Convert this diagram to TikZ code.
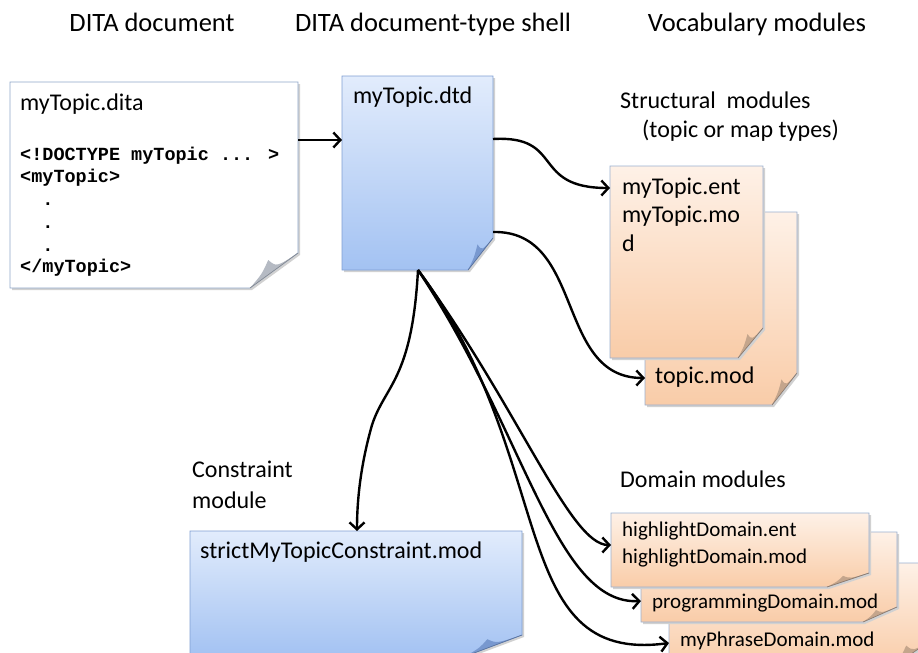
\documentclass[tikz,border=0pt]{standalone}
\usepackage{fontspec}
\setmainfont{Carlito}
\newfontfamily\monob{Liberation Mono}
\usetikzlibrary{arrows.meta}
\definecolor{bluetop}{HTML}{E2ECFC}
\definecolor{bluebot}{HTML}{A3C2F2}
\definecolor{blueedge}{HTML}{7F9FD3}
\definecolor{bluefold}{HTML}{7898CF}
\definecolor{orgtop}{HTML}{FEF1E7}
\definecolor{orgbot}{HTML}{F9CCA8}
\definecolor{orgedge}{HTML}{9AAFD0}
\definecolor{orgfold}{HTML}{C4A58C}
\definecolor{whiteedge}{HTML}{8FA6C9}
\definecolor{whitefold}{HTML}{B5BAC3}
\tikzset{
  frame/.style={inner sep=0pt, outer sep=0pt, anchor=north west},
  lbl/.style={anchor=base west, inner sep=0pt, font=\fontsize{24}{29}\selectfont},
  hdr/.style={anchor=base, inner sep=0pt, font=\fontsize{26.5}{31}\selectfont},
  sml/.style={anchor=base west, inner sep=0pt, font=\fontsize{21}{25}\selectfont},
  code/.style={anchor=base west, inner sep=0pt, font=\monob\bfseries\fontsize{18.5}{22}\selectfont},
  conn/.style={line width=2.4pt, -{Straight Barb[length=7pt,width=15pt,line width=2.4pt]}},
  bluedoc/.style={top color=bluetop, bottom color=bluebot, draw=blueedge, line width=0.8pt},
  orgdoc/.style={top color=orgtop, bottom color=orgbot, draw=orgedge, line width=0.8pt},
  whitedoc/.style={fill=white, draw=whiteedge, line width=0.8pt},
}
% name, x, y, width, height, fold w, fold h, style, fold colour
\newcommand{\docbox}[9]{%
  \node[frame, minimum width=#4pt, minimum height=#5pt] (#1) at (#2,#3) {};
  \fill[black!18] ([shift={(2pt,-2pt)}]#1.north west) -- ([shift={(2pt,-2pt)}]#1.north east)
     -- ([shift={(2pt,#7pt-2pt)}]#1.south east) -- ([shift={(-#6pt+2pt,-2pt)}]#1.south east)
     -- ([shift={(2pt,-2pt)}]#1.south west) -- cycle;
  \path[#8] (#1.north west) -- (#1.north east) -- ([yshift=#7pt]#1.south east)
     -- ([xshift=-#6pt]#1.south east) -- (#1.south west) -- cycle;
  \fill[#9] ([yshift=#7pt]#1.south east) .. controls ([shift={(-0.45*#6pt,0.6*#7pt)}]#1.south east) ..
     ([shift={(-0.62*#6pt,0.8*#7pt)}]#1.south east) .. controls ([shift={(-0.75*#6pt,0.4*#7pt)}]#1.south east) ..
     ([xshift=-#6pt]#1.south east) -- cycle;
  \draw[#9!70!black, line width=0.5pt] ([yshift=#7pt]#1.south east) -- ([xshift=-#6pt]#1.south east);
}
\begin{document}
\begin{tikzpicture}[x=1pt, y=-1pt]
\useasboundingbox (0,0) rectangle (918,653);
\clip (0,0) rectangle (918,653);

% headers
\node[hdr] (h1) at (152,31) {DITA document};
\node[hdr] (h2) at (433,31) {DITA document-type shell};
\node[hdr] (h3) at (757,31) {Vocabulary modules};

% DITA document
\docbox{dita}{10}{82}{288}{206}{48}{35}{whitedoc}{whitefold}
\node[lbl] (ditaname) at (20,110) {myTopic.dita};
\node[code] (c1) at (20,160) {<!DOCTYPE myTopic ... >};
\node[code] (c2) at (20,182) {<myTopic>};
\node[code] (c3) at (20,205) {~~.};
\node[code] (c4) at (20,228) {~~.};
\node[code] (c5) at (20,251) {~~.};
\node[code] (c6) at (20,272) {</myTopic>};

% DTD shell
\docbox{dtd}{342}{76}{151}{194}{25}{32}{bluedoc}{bluefold}
\node[lbl] (dtdname) at (353,103) {myTopic.dtd};

% structural modules
\node[lbl] (s1) at (620,108) {Structural\ \ modules};
\node[lbl] (s2) at (642,137) {(topic or map types)};
\docbox{topmod}{645}{212}{152}{193}{25}{32}{orgdoc}{orgfold}
\docbox{ent}{610}{166}{153}{192}{25}{30}{orgdoc}{orgfold}
\node[lbl] (e1) at (622,194) {myTopic.ent};
\node[lbl] (e2) at (622,222) {myTopic.mo};
\node[lbl] (e3) at (622,251) {d};
\node[lbl] (tm) at (655,383) {topic.mod};

% constraint module
\node[lbl] (k1) at (192,477) {Constraint};
\node[lbl] (k2) at (192,508) {module};
\docbox{cons}{190}{531}{332}{125}{56}{21}{bluedoc}{bluefold}
\node[lbl] (consname) at (200,558) {strictMyTopicConstraint.mod};

% domain modules
\node[lbl] (d0) at (620,487) {Domain modules};
\docbox{phr}{669}{563}{262}{105}{40}{28}{orgdoc}{orgfold}
\docbox{prog}{641}{532}{256}{90}{34}{15}{orgdoc}{orgfold}
\docbox{hl}{611}{513}{258}{74}{42}{14}{orgdoc}{orgfold}
\node[sml] (hl1) at (622,536) {highlightDomain.ent};
\node[sml] (hl2) at (622,563) {highlightDomain.mod};
\node[sml] (pg) at (652,608) {programmingDomain.mod};
\node[sml] (ph) at (680,646) {myPhraseDomain.mod};

% connectors
\coordinate (dtdbot) at (418,270);
\draw[conn] (dita.east |- 0,140) -- (dtd.west |- 0,140);
\draw[conn] (dtd.east |- 0,139) .. controls (565,135) and (530,188) .. (ent.west |- 0,188);
\draw[conn] (dtd.east |- 0,232) .. controls (585,230) and (555,378) .. (topmod.west |- 0,378);
\draw[conn] (dtdbot) .. controls (412,380) and (385,385) .. (372,425) .. controls (362,460) and (357,495) .. (cons.north west -| 357,0);
\draw[conn] (dtdbot) .. controls (520,410) and (570,545) .. (hl.west |- 0,545);
\draw[conn] (dtdbot) .. controls (525,430) and (555,605) .. (prog.west |- 0,601);
\draw[conn] (dtdbot) .. controls (560,460) and (505,665) .. (phr.west |- 0,643);
\end{tikzpicture}
\end{document}
